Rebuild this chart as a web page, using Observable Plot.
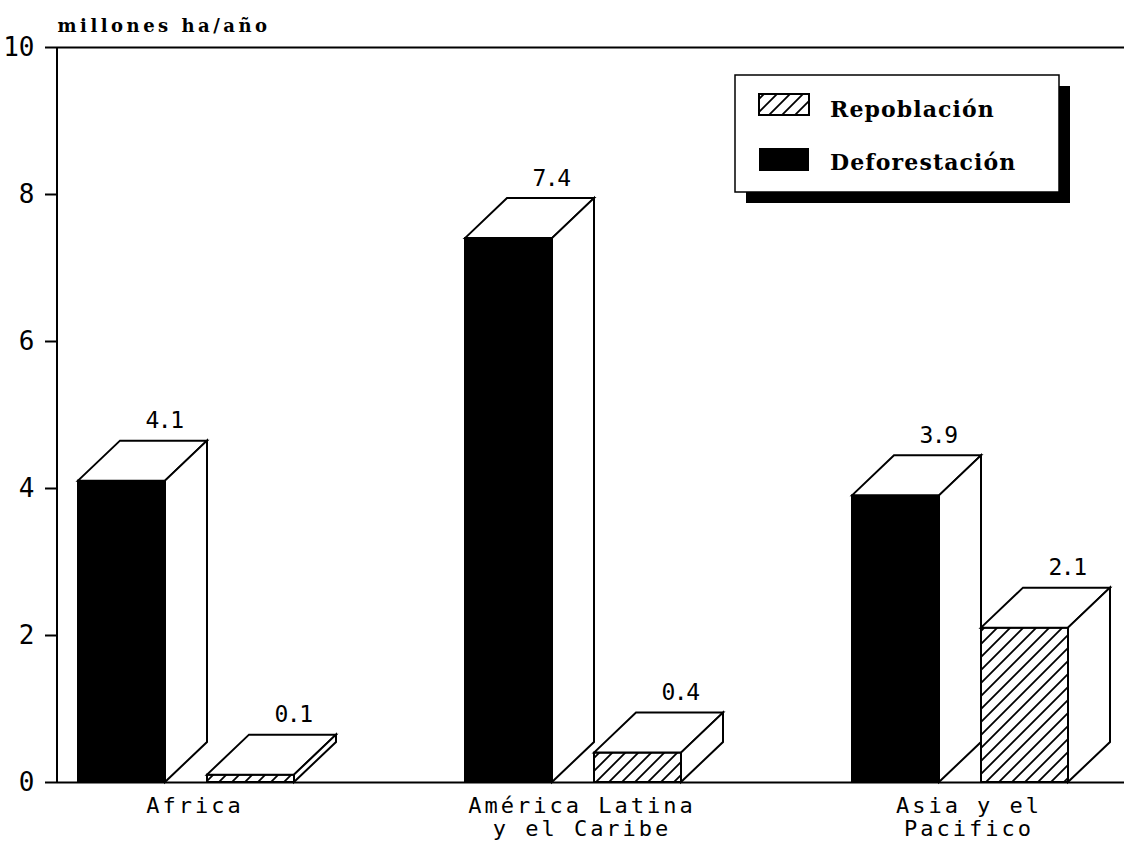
<!DOCTYPE html>
<html>
<head>
<meta charset="utf-8">
<script src="https://cdn.jsdelivr.net/npm/d3@7"></script>
<script src="https://cdn.jsdelivr.net/npm/@observablehq/plot@0.6"></script>
<style>
  html, body { margin: 0; padding: 0; background: #fff; }
  #chart svg { display: block; }
  #chart svg g[aria-label^="y-axis"] path,
  #chart svg g[aria-label^="y-axis"] line { stroke-width: 2px; stroke: #000; }
</style>
</head>
<body>
<div id="chart"></div>
<script>
// ---- data ----
const categories = ["Africa", "América Latina\ny el Caribe", "Asia y el\nPacifico"];
const deforestacion = [4.1, 7.4, 3.9];
const repoblacion = [0.1, 0.4, 2.1];
const seriesNames = ["Deforestación", "Repoblación"];
const yTicks = [0, 2, 4, 6, 8, 10];
const yTitle = "millones ha/año";

const rows = categories.flatMap((c, i) => [
  {category: c, series: seriesNames[0], value: deforestacion[i]},
  {category: c, series: seriesNames[1], value: repoblacion[i]}
]);

// ---- geometry (pixels) ----
const FACE = 87, DX = 42, DY = -40, REP_OFF = 129;

function bars3d(index, scales) {
  const x = scales.x, y = scales.y;
  const g = d3.create("svg:g");
  const defs = g.append("defs");
  const pat = defs.append("pattern")
    .attr("id", "hatchRep").attr("patternUnits", "userSpaceOnUse")
    .attr("width", 13).attr("height", 13);
  pat.append("rect").attr("width", 13).attr("height", 13).attr("fill", "#fff");
  pat.append("path").attr("d", "M-3,3 L3,-3 M0,13 L13,0 M10,16 L16,10")
    .attr("stroke", "#000").attr("stroke-width", 1.8);

  const y0 = y(0);
  // y axis line
  g.append("line").attr("x1", 57).attr("x2", 57).attr("y1", y(10)).attr("y2", y0)
    .attr("stroke", "#000").attr("stroke-width", 2);

  for (const r of rows) {
    const bx = x(r.category) + (r.series === seriesNames[1] ? REP_OFF : 0);
    const yt = y(r.value);
    const fill = r.series === seriesNames[0] ? "#000" : "url(#hatchRep)";
    const bar = g.append("g").attr("stroke", "#000").attr("stroke-width", 2).attr("stroke-linejoin", "miter");
    bar.append("rect").attr("x", bx).attr("y", yt).attr("width", FACE).attr("height", y0 - yt).attr("fill", fill);
    bar.append("polygon").attr("fill", "#fff").attr("points", [
      [bx, yt], [bx + DX, yt + DY], [bx + FACE + DX, yt + DY], [bx + FACE, yt]
    ].map(p => p.join(",")).join(" "));
    bar.append("polygon").attr("fill", "#fff").attr("points", [
      [bx + FACE, y0], [bx + FACE + DX, y0 + DY], [bx + FACE + DX, yt + DY], [bx + FACE, yt]
    ].map(p => p.join(",")).join(" "));
  }

  // legend
  const L = g.append("g");
  L.append("rect").attr("x", 746).attr("y", 86).attr("width", 324).attr("height", 117).attr("fill", "#000");
  L.append("rect").attr("x", 735).attr("y", 75).attr("width", 324).attr("height", 117)
    .attr("fill", "#fff").attr("stroke", "#000").attr("stroke-width", 1.5);
  L.append("rect").attr("x", 759).attr("y", 94).attr("width", 50).attr("height", 21)
    .attr("fill", "url(#hatchRep)").attr("stroke", "#000").attr("stroke-width", 2);
  L.append("rect").attr("x", 759).attr("y", 148).attr("width", 50).attr("height", 23)
    .attr("fill", "#000");
  const legendItems = [[seriesNames[1], 117], [seriesNames[0], 170]];
  for (const [t, by] of legendItems) {
    L.append("text").attr("x", 830).attr("y", by).text(t)
      .attr("text-anchor", "start")
      .style("font-family", "'DejaVu Serif'").style("font-weight", "bold")
      .style("font-size", "22px").style("letter-spacing", "1.1px").attr("fill", "#000");
  }
  return g.node();
}

const chart = Plot.plot({
  width: 1124,
  height: 847,
  marginTop: 47,
  marginBottom: 65,
  marginLeft: 57,
  marginRight: 0,
  style: {fontFamily: "DejaVu Sans Mono", fontSize: "26px", color: "#000", background: "#fff"},
  x: {type: "band", domain: categories, range: [78, 78 + 387 * 3], padding: 0, axis: null},
  y: {domain: [0, 10], ticks: yTicks, tickSize: 12, tickPadding: 11, label: null},
  marks: [
    Plot.ruleY([0, 10], {stroke: "#000", strokeWidth: 2}),
    bars3d,
    Plot.text(rows.filter(d => d.series === seriesNames[0]), {
      x: "category", y: "value", text: d => String(d.value),
      dx: -108, dy: -53, fontSize: 23, lineAnchor: "bottom", fill: "#000"
    }),
    Plot.text(rows.filter(d => d.series === seriesNames[1]), {
      x: "category", y: "value", text: d => String(d.value),
      dx: 21, dy: -53, fontSize: 23, lineAnchor: "bottom", fill: "#000"
    }),
    Plot.text(categories, {
      x: d => d, y: () => 0, text: d => d,
      dx: -77, dy: 14, lineAnchor: "top", lineHeight: 1.06,
      fontSize: 22, fill: "#000"
    }),
    Plot.text([yTitle], {
      frameAnchor: "top-left", text: d => d, dy: -16, lineAnchor: "bottom", textAnchor: "start",
      fontFamily: "DejaVu Serif", fontWeight: "bold", fontSize: 18, fill: "#000"
    })
  ]
});

// letter spacing per text layer (value labels, value labels, category labels, title)
const spacing = ["-1.5px", "-1.5px", "3px", "3.5px"];
d3.select(chart).selectAll('g[aria-label="text"]').each(function(_, i) {
  if (spacing[i] != null) this.style.letterSpacing = spacing[i];
});
document.getElementById("chart").appendChild(chart);
</script>
</body>
</html>
